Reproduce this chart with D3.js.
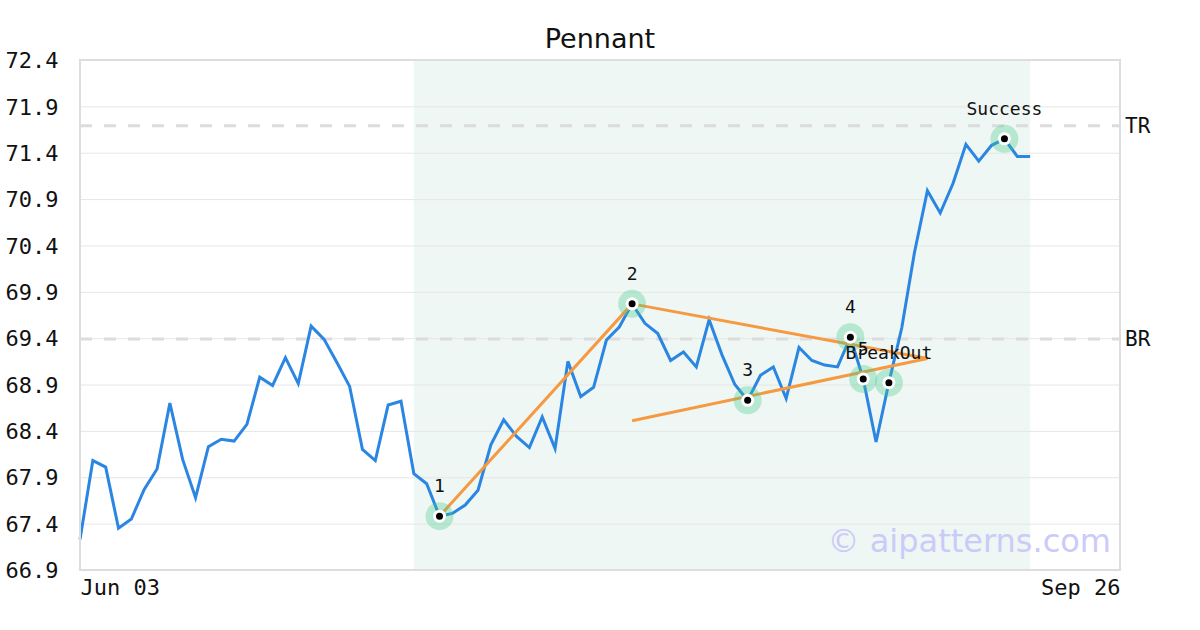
<!DOCTYPE html>
<html>
<head>
<meta charset="utf-8">
<script src="https://cdn.jsdelivr.net/npm/d3@7"></script>
<style>
  html, body { margin: 0; padding: 0; background: #fff; }
  svg { display: block; }
</style>
</head>
<body>
<svg id="chart" width="1200" height="630"></svg>
<script>
// ---- data ----
const title = "Pennant";
const prices = [
  67.23, 68.08, 68.01, 67.35, 67.45, 67.77, 67.99, 68.70, 68.09, 67.68,
  68.23, 68.31, 68.29, 68.47, 68.98, 68.89, 69.19, 68.91, 69.53, 69.39,
  69.14, 68.88, 68.20, 68.08, 68.68, 68.72, 67.94, 67.83, 67.48, 67.51,
  67.60, 67.76, 68.25, 68.52, 68.34, 68.22, 68.55, 68.21, 69.15, 68.77,
  68.87, 69.38, 69.52, 69.77, 69.56, 69.45, 69.16, 69.25, 69.09, 69.60,
  69.22, 68.90, 68.73, 69.00, 69.09, 68.75, 69.30, 69.16, 69.11, 69.09,
  69.41, 68.96, 68.28, 68.92, 69.51, 70.33, 70.99, 70.75, 71.07, 71.49,
  71.31, 71.48, 71.55, 71.36, 71.36
];
const xTickIndex = [0, 81];
const xTickLabels = ["Jun 03", "Sep 26"];
const yTicks = [66.9, 67.4, 67.9, 68.4, 68.9, 69.4, 69.9, 70.4, 70.9, 71.4, 71.9, 72.4];
const markerIndex = [28, 43, 52, 60, 61, 63, 72];
const markerLabels = ["1", "2", "3", "4", "5", "BreakOut", "Success"];
const levelNames = ["TR", "BR"];
const levelValues = [71.69, 69.39];
const shadeRange = [26, 74];
// trend lines: [startIndex, startValue, endIndex, endValue]
const trendStartIdx = [28, 43, 43];
const trendStartVal = [67.48, 69.77, 68.51];
const trendEndIdx = [43, 66, 66];
const trendEndVal = [69.77, 69.18, 69.18];
const watermark = "© aipatterns.com";

// ---- layout ----
const svg = d3.select("#chart");
const L = 80, R = 1120, T = 60, B = 570;
const x = d3.scaleLinear().domain([0, 81]).range([L, R]);
const y = d3.scaleLinear().domain([66.9, 72.4]).range([B, T]);
const mono = "'DejaVu Sans Mono', monospace";
const sans = "'DejaVu Sans', sans-serif";

// title
svg.append("text").attr("x", 600).attr("y", 48).attr("text-anchor", "middle")
  .attr("font-family", sans).attr("font-size", 27).attr("fill", "#111").text(title);

// shaded pattern region
svg.append("rect")
  .attr("x", x(shadeRange[0])).attr("y", T)
  .attr("width", x(shadeRange[1]) - x(shadeRange[0])).attr("height", B - T)
  .attr("fill", "#eef7f3");

// grid lines
const yAxis = d3.axisLeft(y).tickValues(yTicks).tickSize(-(R - L)).tickFormat(d3.format(".1f"));
const gy = svg.append("g").attr("transform", `translate(${L},0)`).call(yAxis);
gy.select(".domain").remove();
gy.selectAll(".tick line").attr("stroke", "#e6e6e6").attr("stroke-width", 1);
gy.selectAll(".tick text").attr("x", -21.5).attr("dy", "0.35em")
  .attr("font-family", mono).attr("font-size", 22).attr("fill", "#111");

// x axis labels
const xAxis = d3.axisBottom(x).tickValues(xTickIndex).tickSize(0)
  .tickFormat((d, i) => xTickLabels[i]);
const gx = svg.append("g").attr("transform", `translate(0,${B})`).call(xAxis);
gx.select(".domain").remove();
gx.selectAll(".tick text")
  .attr("y", 25).attr("dy", 0)
  .attr("text-anchor", (d, i) => i === 0 ? "start" : "end")
  .attr("font-family", mono).attr("font-size", 22).attr("fill", "#111");

// level lines
levelValues.forEach((v, i) => {
  svg.append("line").attr("x1", L).attr("x2", R).attr("y1", y(v)).attr("y2", y(v))
    .attr("stroke", "#dcdcdc").attr("stroke-width", 3).attr("stroke-dasharray", "12,12");
  svg.append("text").attr("x", R + 5).attr("y", y(v)).attr("dy", "0.35em")
    .attr("font-family", mono).attr("font-size", 21).attr("fill", "#111").text(levelNames[i]);
});

// watermark
svg.append("text").attr("x", 1111).attr("y", 552).attr("text-anchor", "end")
  .attr("font-family", sans).attr("font-size", 32).attr("fill", "#cbcbfa").text(watermark);

// price line
const line = d3.line().x((d, i) => x(i)).y(d => y(d));
svg.append("path").datum(prices).attr("d", line)
  .attr("fill", "none").attr("stroke", "#2a86e2").attr("stroke-width", 3)
  .attr("stroke-linejoin", "miter");

// trend lines
trendStartIdx.forEach((s, i) => {
  svg.append("line")
    .attr("x1", x(s)).attr("y1", y(trendStartVal[i]))
    .attr("x2", x(trendEndIdx[i])).attr("y2", y(trendEndVal[i]))
    .attr("stroke", "#f59a42").attr("stroke-width", 3);
});

// markers
const mg = svg.append("g");
markerIndex.forEach((idx, i) => {
  const cx = x(idx), cy = y(prices[idx]);
  mg.append("circle").attr("cx", cx).attr("cy", cy).attr("r", 14).attr("fill", "rgba(70,200,140,0.33)");
  mg.append("circle").attr("cx", cx).attr("cy", cy).attr("r", 6.5).attr("fill", "#fff");
  mg.append("circle").attr("cx", cx).attr("cy", cy).attr("r", 3.5).attr("fill", "#000");
  mg.append("text").attr("x", cx).attr("y", cy - 24).attr("text-anchor", "middle")
    .attr("font-family", mono).attr("font-size", 18).attr("fill", "#111").text(markerLabels[i]);
});

// plot border
svg.append("rect").attr("x", L).attr("y", T).attr("width", R - L).attr("height", B - T)
  .attr("fill", "none").attr("stroke", "#dddddd").attr("stroke-width", 2);
</script>
</body>
</html>
